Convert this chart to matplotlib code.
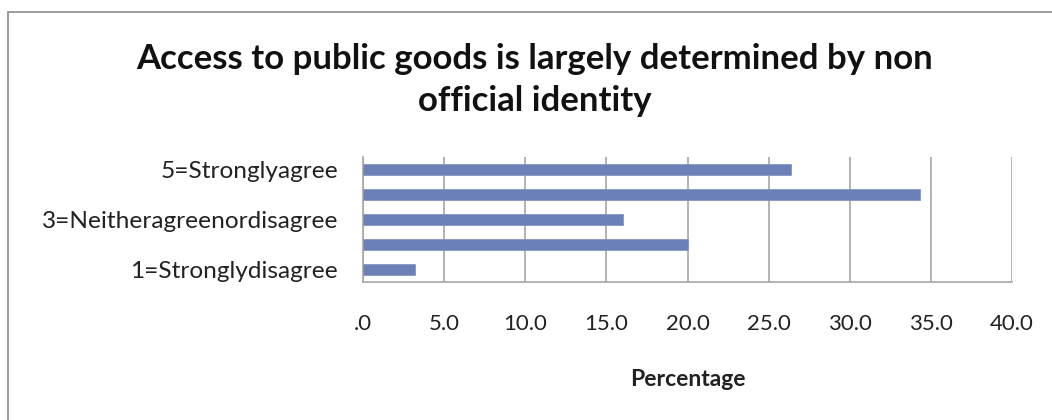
import matplotlib.pyplot as plt
from matplotlib.patches import Rectangle
from matplotlib.ticker import FuncFormatter, MultipleLocator

# Survey responses (percentage of respondents)
categories = ["1=Stronglydisagree", "2=Disagree", "3=Neitheragreenordisagree",
              "4=Agree", "5=Stronglyagree"]
percentages = [3.2, 20.0, 16.0, 34.3, 26.4]
shown_labels = [categories[0], "", categories[2], "", categories[4]]

title = "Access to public goods is largely determined by non\nofficial identity"
xlabel = "Percentage"

plt.rcParams['font.family'] = ['Lato', 'DejaVu Sans']

fig = plt.figure(figsize=(10.52, 4.2), dpi=100)
fig.patch.set_facecolor('white')

# chart frame
fig.patches.append(Rectangle((8 / 1052, -0.05), 1.1, (420 - 12) / 420 + 0.05,
                             transform=fig.transFigure, fill=False,
                             edgecolor='#8c8c8c', linewidth=1.2))

ax = fig.add_axes([363 / 1052, (420 - 282) / 420, (1012 - 363) / 1052, (282 - 157) / 420])

y = list(range(len(categories)))
ax.barh(y, percentages, height=0.42, color='#6b80b6', edgecolor='#8796c4', linewidth=0.6, zorder=3)

ax.set_xlim(0, 40)
ax.set_ylim(-0.5, len(categories) - 0.5)
ax.xaxis.set_major_locator(MultipleLocator(5))
ax.xaxis.set_major_formatter(FuncFormatter(lambda v, p: ".0" if v == 0 else f"{v:.1f}"))
ax.set_yticks(y)
ax.set_yticklabels(shown_labels)

ax.grid(axis='x', color='#a6a6a6', linewidth=1.2, zorder=0)
for s in ['top', 'right']:
    ax.spines[s].set_visible(False)
for s in ['left', 'bottom']:
    ax.spines[s].set_color('#a6a6a6')
    ax.spines[s].set_linewidth(1.2)

ax.tick_params(axis='x', length=0, pad=23, labelsize=16, colors='#222222')
ax.tick_params(axis='y', length=0, pad=18, labelsize=17.6, colors='#222222')

ax.set_xlabel(xlabel, fontsize=16.5, fontweight='bold', labelpad=25, color='#222222')

fig.text(535 / 1052, 1 - 80 / 420, title, ha='center', va='center', fontsize=25,
         fontweight='bold', color='#111111', linespacing=1.4)

fig.savefig('out.png', dpi=100, facecolor='white')
